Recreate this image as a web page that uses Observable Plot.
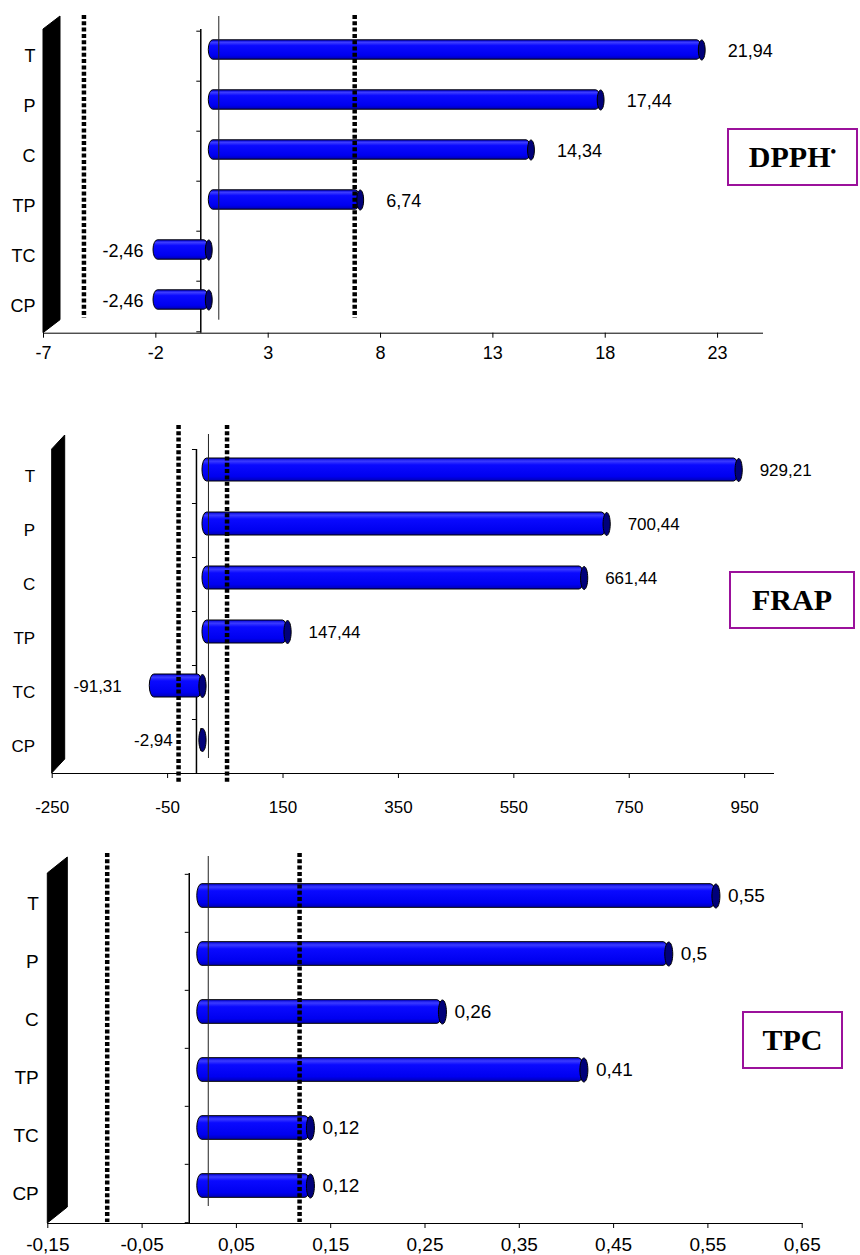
<!DOCTYPE html>
<html><head><meta charset="utf-8">
<script src="https://cdn.jsdelivr.net/npm/d3@7"></script>
<script src="https://cdn.jsdelivr.net/npm/@observablehq/plot@0.6"></script>
<style>
html,body{margin:0;padding:0;background:#fff;}
#wrap{position:relative;width:860px;height:1255px;overflow:hidden;font-family:"Liberation Sans",Arial,sans-serif;}
.panel{position:absolute;left:0;}
.tag{position:absolute;border:2px solid #9b119b;background:#fff;font-family:"Liberation Serif","Times New Roman",serif;font-weight:bold;font-size:30px;display:flex;align-items:center;justify-content:center;box-sizing:border-box;color:#000;}
.tag sup{font-size:16px;position:relative;top:-5px;}
</style></head>
<body><div id="wrap"></div>
<script>
// ---- data ----
const categories = ["T", "P", "C", "TP", "TC", "CP"];
const dpphValues = [21.94, 17.44, 14.34, 6.74, -2.46, -2.46];
const frapValues = [929.21, 700.44, 661.44, 147.44, -91.31, -2.94];
const tpcValues  = [0.55, 0.5, 0.26, 0.41, 0.12, 0.12];
const dpphTicks = [-7, -2, 3, 8, 13, 18, 23];
const frapTicks = [-250, -50, 150, 350, 550, 750, 950];
const tpcTicks  = [-0.15, -0.05, 0.05, 0.15, 0.25, 0.35, 0.45, 0.55, 0.65];
const dpphDomain = [-7, 25];
const frapDomain = [-250, 1000];
const tpcDomain  = [-0.15, 0.65];
const dpphLimits = [-5.2, 6.85];
const frapLimits = [-31, 53];
const tpcLimits  = [-0.087, 0.117];
const panelTitles = ["DPPH", "FRAP", "TPC"];

// ---- layout ----
const layouts = [
  {top:0,   height:400, mt:29, mb:67.3, ml:43,   mr:98,   wall:[17,-13], back:[18,-13], bar:[8,-6.5], barH:20, cap:[3.4,10],  font:18,   tickPad:8,  yPad:8,  pos:34, neg:-2,  ldy:-5, lim:[-14,14.7], tag:{l:727,t:128,w:131,h:58}},
  {top:400, height:430, mt:49, mb:57,   ml:51.7, mr:87,   wall:[13,-14], back:[12,-15], bar:[6,-6.5], barH:23, cap:[3.6,11.5],font:17,   tickPad:22, yPad:17, pos:27, neg:-22, ldy:-6, lim:[-24,-9],   tag:{l:729,t:571,w:126,h:58}},
  {top:830, height:425, mt:43, mb:32,   ml:47.3, mr:58.3, wall:[20,-16], back:[19,-17], bar:[8,-7.5], barH:24, cap:[4,12],    font:19,   tickPad:9,  yPad:9,  pos:20, neg:-2,  ldy:-8, lim:[-20,1],    tag:{l:742,t:1011,w:101,h:58}}
];
const series = [
  {values: dpphValues, ticks: dpphTicks, domain: dpphDomain, limits: dpphLimits},
  {values: frapValues, ticks: frapTicks, domain: frapDomain, limits: frapLimits},
  {values: tpcValues,  ticks: tpcTicks,  domain: tpcDomain,  limits: tpcLimits}
];

const fmt = v => String(+(+v).toFixed(2)).replace(".", ",");

function ellipseSymbol(rx, ry) {
  const k = 0.5523;
  return {draw(ctx) {
    ctx.moveTo(0, -ry);
    ctx.bezierCurveTo(k*rx, -ry, rx, -k*ry, rx, 0);
    ctx.bezierCurveTo(rx, k*ry, k*rx, ry, 0, ry);
    ctx.bezierCurveTo(-k*rx, ry, -rx, k*ry, -rx, 0);
    ctx.bezierCurveTo(-rx, -k*ry, -k*rx, -ry, 0, -ry);
    ctx.closePath();
  }};
}

const wrap = document.getElementById("wrap");

series.forEach((s, i) => {
  const L = layouts[i];
  const id = "cyl" + i;
  const data = categories.map((c, j) => ({c, v: s.values[j]}));
  const bw = (L.height - L.mt - L.mb) / categories.length;
  const inset = (bw - L.barH) / 2;
  const k = (s.domain[1] - s.domain[0]) / (860 - L.ml - L.mr);

  const defs = () => {
    const g = d3.create("svg:defs");
    const lg = g.append("linearGradient").attr("id", id)
      .attr("x1", 0).attr("y1", 0).attr("x2", 0).attr("y2", 1);
    [[0, "#0000d8"], [0.14, "#3b3bff"], [0.3, "#0a0aff"], [0.8, "#0000f0"], [1, "#0000b4"]]
      .forEach(([o, c]) => lg.append("stop").attr("offset", o).attr("stop-color", c));
    return g.node();
  };
  const wall = (index, scales, values, dim) => {
    const x0 = dim.marginLeft, yT = dim.marginTop, yB = dim.height - dim.marginBottom;
    const [wx, wy] = L.wall;
    return d3.create("svg:path")
      .attr("d", `M${x0},${yB}L${x0},${yT}L${x0 + wx},${yT + wy}L${x0 + wx},${yB + wy}Z`)
      .attr("fill", "#000").attr("stroke", "#000").node();
  };

  const plot = Plot.plot({
    width: 860,
    height: L.height,
    marginTop: L.mt, marginBottom: L.mb, marginLeft: L.ml, marginRight: L.mr,
    style: {fontFamily: '"Liberation Sans", Arial, sans-serif', fontSize: L.font + "px", color: "#000", background: "transparent", overflow: "visible"},
    x: {domain: s.domain, ticks: s.ticks, tickFormat: fmt, tickSize: 5, tickPadding: L.tickPad, line: true, label: null},
    y: {type: "band", domain: categories, padding: 0, tickSize: 0, tickPadding: L.yPad, label: null},
    marks: [
      defs,
      wall,
      Plot.ruleX([0], {stroke: "#000", strokeWidth: 1.5}),
      Plot.ruleY(categories, {y: d => d, x1: -4 * k, x2: 0, dy: -bw / 2, stroke: "#000"}),
      Plot.ruleY(categories.slice(-1), {y: d => d, x1: -4 * k, x2: 0, dy: bw / 2, stroke: "#000"}),
      Plot.barX(data, {x1: 0, x2: d => d.v, y: "c", insetTop: inset, insetBottom: inset,
        dx: L.bar[0], dy: L.bar[1], fill: `url(#${id})`, stroke: "#000", strokeWidth: 1,
        rx: L.cap[0] + 1, ry: L.barH / 2}),
      Plot.dot(data, {x: d => Math.max(d.v, 0), y: "c", dx: L.bar[0], dy: L.bar[1],
        symbol: ellipseSymbol(L.cap[0], L.cap[1]), fill: "#00007a", stroke: "#000", strokeWidth: 1}),
      Plot.ruleX([0], {dx: L.back[0], dy: L.back[1], stroke: "#222", strokeWidth: 1}),
      Plot.ruleX(s.limits, {stroke: "#000", strokeWidth: 4.5, strokeDasharray: "4,2.3",
        insetTop: L.lim[0], insetBottom: L.lim[1]}),
      Plot.text(data.filter(d => d.v >= 0), {x: "v", y: "c", text: d => fmt(d.v),
        textAnchor: "start", dx: L.pos, dy: L.ldy, fontSize: L.font, fill: "#000"}),
      Plot.text(data.filter(d => d.v < 0), {x: "v", y: "c", text: d => fmt(d.v),
        textAnchor: "end", dx: L.neg, dy: L.ldy, fontSize: L.font, fill: "#000"})
    ]
  });
  const holder = document.createElement("div");
  holder.className = "panel";
  holder.style.top = L.top + "px";
  holder.appendChild(plot);
  wrap.appendChild(holder);

  const tag = document.createElement("div");
  tag.className = "tag";
  tag.style.left = L.tag.l + "px";
  tag.style.top = L.tag.t + "px";
  tag.style.width = L.tag.w + "px";
  tag.style.height = L.tag.h + "px";
  tag.textContent = panelTitles[i];
  if (i === 0) {
    const sup = document.createElement("sup");
    sup.textContent = "•";
    tag.appendChild(sup);
  }
  wrap.appendChild(tag);
});
</script>
</body></html>
